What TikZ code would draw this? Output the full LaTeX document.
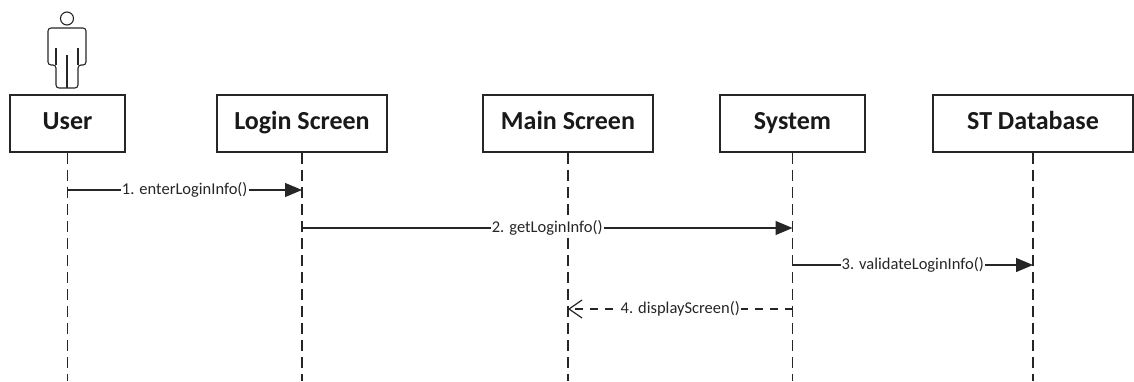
\documentclass[tikz,border=0pt]{standalone}
\usepackage{fontspec}
\setmainfont{Carlito}
\usetikzlibrary{arrows.meta}
\tikzset{
  obj/.style={draw=black!85, line width=1.5pt, minimum height=57pt, inner sep=0pt, text height=18pt, text depth=6pt, font=\fontsize{26}{28}\selectfont\bfseries, text=black!90},
  life/.style={draw=black!85, line width=1.4pt, dash pattern=on 11pt off 6pt},
  msg/.style={draw=black!85, line width=1.2pt, -{Triangle[length=17pt,width=14pt]}},
  ret/.style={draw=black!85, line width=1.2pt, dash pattern=on 8pt off 7pt, -{Straight Barb[length=13pt,width=18pt,line width=1.2pt]}},
  lbl/.style={fill=white, inner sep=1pt, font=\fontsize{16.5}{18}\selectfont, text=black!85},
  actorline/.style={draw=black!85, line width=1.1pt}
}
\begin{document}
\begin{tikzpicture}[x=1pt,y=-1pt]
\useasboundingbox (0,0) rectangle (1134,381);
% objects
\node[obj, minimum width=115pt] (user) at (67.5,123.5) {User};
\node[obj, minimum width=170pt] (login) at (302,123.5) {Login Screen};
\node[obj, minimum width=170pt] (main) at (568,123.5) {Main Screen};
\node[obj, minimum width=145pt] (sys) at (792.5,123.5) {System};
\node[obj, minimum width=200pt] (db) at (1033,123.5) {ST Database};
% lifeline ends
\coordinate (userE) at (67.5,381);
\coordinate (loginE) at (302,381);
\coordinate (mainE) at (568,381);
\coordinate (sysE) at (792.5,381);
\coordinate (dbE) at (1033,381);
\draw[life] (user.south) -- (userE);
\draw[life] (login.south) -- (loginE);
\draw[life] (main.south) -- (mainE);
\draw[life] (sys.south) -- (sysE);
\draw[life] (db.south) -- (dbE);
% actor
\node[circle, draw=black!85, line width=1.1pt, minimum size=13pt, inner sep=0pt] (head) at (67,18.5) {};
\draw[actorline, rounded corners=3pt] (56,88) -- (56,65) -- (48,65) -- (48,28) -- (86,28) -- (86,65) -- (78,65) -- (78,88) -- cycle;
\draw[actorline] (56,48) -- (56,65) (78,48) -- (78,65) (67,55) -- (67,88);
% messages
\coordinate (m1a) at (67.5,190); \coordinate (m1b) at (302,190);
\draw[msg] (m1a) -- node[lbl] {1. enterLoginInfo()} (m1b);
\coordinate (m2a) at (302,228); \coordinate (m2b) at (792.5,228);
\draw[msg] (m2a) -- node[lbl] {2. getLoginInfo()} (m2b);
\coordinate (m3a) at (792.5,265); \coordinate (m3b) at (1033,265);
\draw[msg] (m3a) -- node[lbl] {3. validateLoginInfo()} (m3b);
\coordinate (m4a) at (792.5,309); \coordinate (m4b) at (568,309);
\draw[ret] (m4a) -- node[lbl] {4. displayScreen()} (m4b);
\end{tikzpicture}
\end{document}
